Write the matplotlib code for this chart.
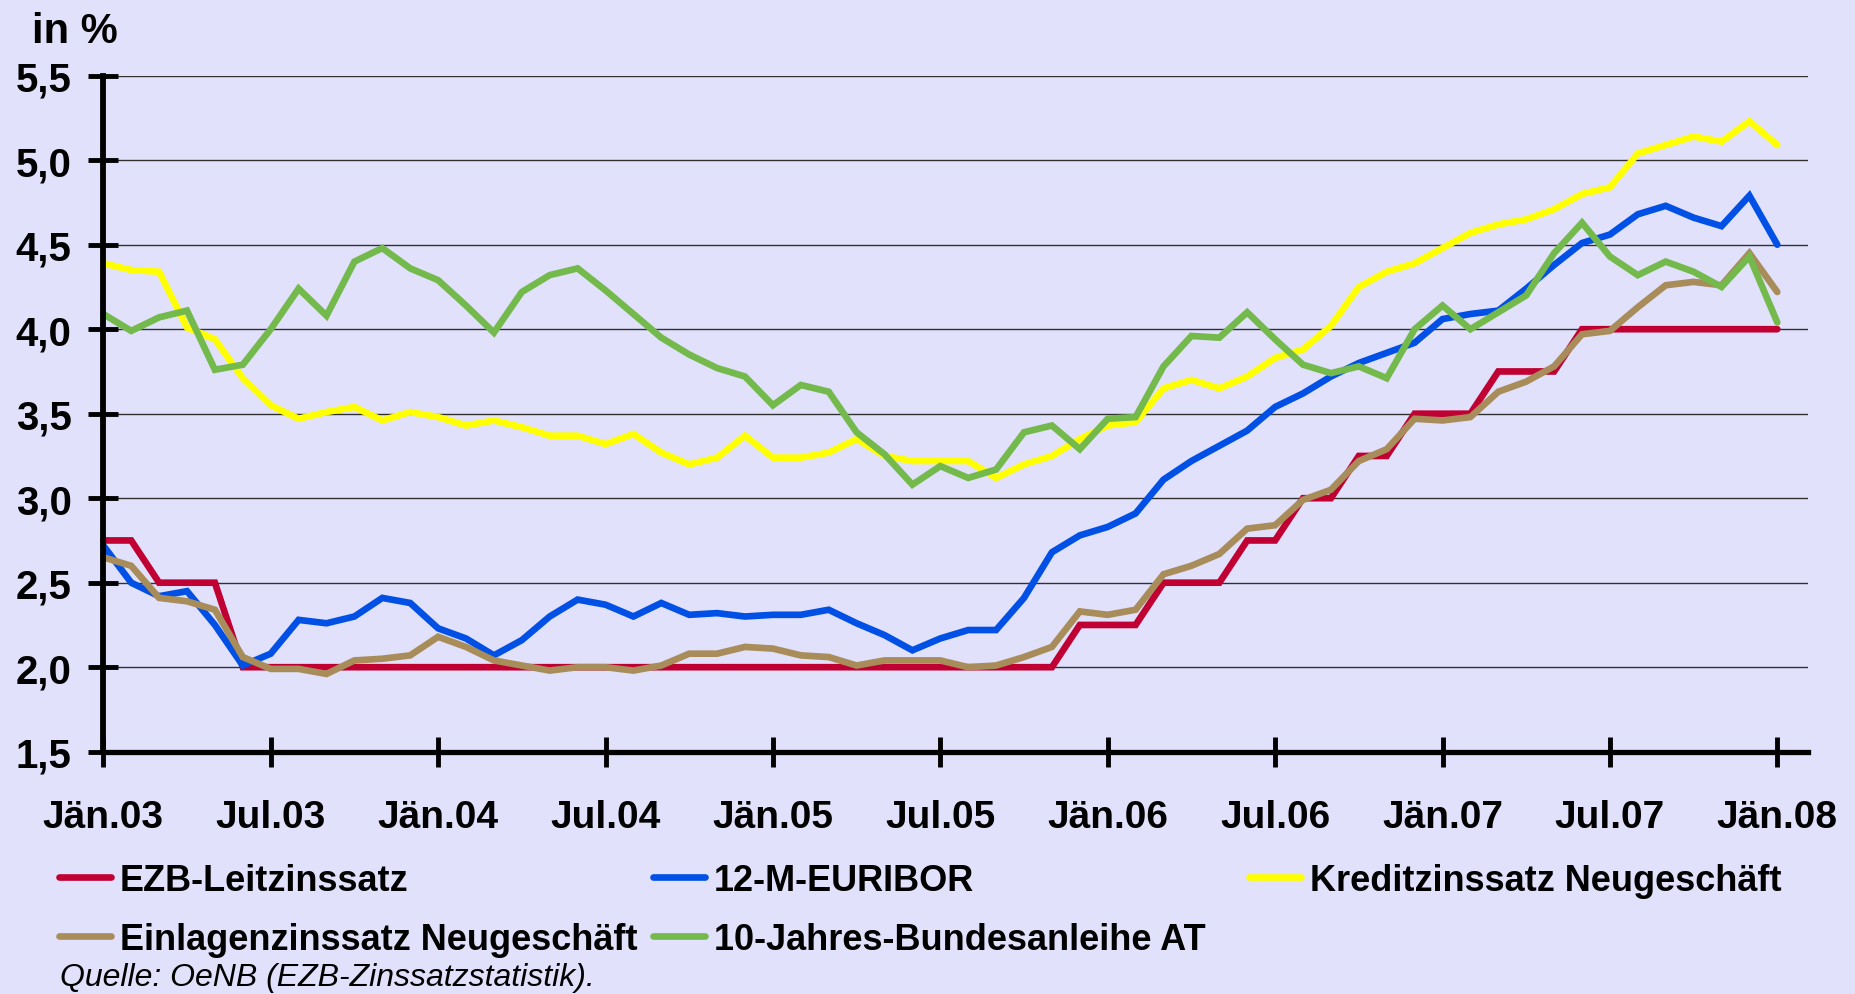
import numpy as np
import matplotlib
matplotlib.use("Agg")
import matplotlib.pyplot as plt

plt.rcParams['font.family'] = ['Liberation Sans', 'DejaVu Sans']

# monthly values Jän.03 .. Jän.08 (61 months), in %
ezb = [2.75, 2.75, 2.50, 2.50, 2.50] + [2.00] * 30 + [2.25] * 3 + [2.50] * 3 \
    + [2.75] * 2 + [3.00] * 2 + [3.25] * 2 + [3.50] * 3 + [3.75] * 3 + [4.00] * 8

euribor = [2.72, 2.50, 2.42, 2.45, 2.25, 2.01, 2.08, 2.28, 2.26, 2.30, 2.41, 2.38,
           2.23, 2.17, 2.07, 2.16, 2.30, 2.40, 2.37, 2.30, 2.38, 2.31, 2.32, 2.30,
           2.31, 2.31, 2.34, 2.26, 2.19, 2.10, 2.17, 2.22, 2.22, 2.41, 2.68, 2.78,
           2.83, 2.91, 3.11, 3.22, 3.31, 3.40, 3.54, 3.62, 3.72, 3.80, 3.86, 3.92,
           4.06, 4.09, 4.11, 4.24, 4.38, 4.51, 4.56, 4.68, 4.73, 4.66, 4.61, 4.79,
           4.50]

kredit = [4.39, 4.35, 4.34, 4.01, 3.94, 3.71, 3.55, 3.47, 3.51, 3.54, 3.46, 3.51,
          3.48, 3.43, 3.46, 3.42, 3.37, 3.37, 3.32, 3.38, 3.27, 3.20, 3.24, 3.37,
          3.24, 3.24, 3.27, 3.35, 3.25, 3.22, 3.22, 3.22, 3.12, 3.20, 3.25, 3.35,
          3.43, 3.45, 3.65, 3.70, 3.65, 3.72, 3.83, 3.88, 4.02, 4.25, 4.34, 4.39,
          4.48, 4.57, 4.62, 4.65, 4.71, 4.80, 4.84, 5.04, 5.09, 5.14, 5.11, 5.23,
          5.09]

einlagen = [2.65, 2.60, 2.41, 2.39, 2.34, 2.06, 1.99, 1.99, 1.96, 2.04, 2.05, 2.07,
            2.18, 2.12, 2.04, 2.01, 1.98, 2.00, 2.00, 1.98, 2.01, 2.08, 2.08, 2.12,
            2.11, 2.07, 2.06, 2.01, 2.04, 2.04, 2.04, 2.00, 2.01, 2.06, 2.12, 2.33,
            2.31, 2.34, 2.55, 2.60, 2.67, 2.82, 2.84, 2.99, 3.05, 3.22, 3.29, 3.47,
            3.46, 3.48, 3.63, 3.69, 3.78, 3.97, 3.99, 4.13, 4.26, 4.28, 4.26, 4.45,
            4.22]

bund10 = [4.09, 3.99, 4.07, 4.11, 3.76, 3.79, 4.00, 4.24, 4.08, 4.40, 4.48, 4.36,
          4.29, 4.14, 3.98, 4.22, 4.32, 4.36, 4.23, 4.09, 3.95, 3.85, 3.77, 3.72,
          3.55, 3.67, 3.63, 3.39, 3.26, 3.08, 3.19, 3.12, 3.17, 3.39, 3.43, 3.29,
          3.47, 3.48, 3.78, 3.96, 3.95, 4.10, 3.94, 3.79, 3.74, 3.78, 3.71, 4.00,
          4.14, 4.00, 4.10, 4.20, 4.45, 4.63, 4.43, 4.32, 4.40, 4.34, 4.25, 4.43,
          4.04]

series_names = ["EZB-Leitzinssatz", "12-M-EURIBOR", "Kreditzinssatz Neugeschäft",
                "Einlagenzinssatz Neugeschäft", "10-Jahres-Bundesanleihe AT"]
series_colors = ["#C00032", "#0050E6", "#FFFF00", "#A88C5A", "#74B94C"]

x_labels = ["Jän.03", "Jul.03", "Jän.04", "Jul.04", "Jän.05", "Jul.05",
            "Jän.06", "Jul.06", "Jän.07", "Jul.07", "Jän.08"]
y_values = [1.5, 2.0, 2.5, 3.0, 3.5, 4.0, 4.5, 5.0, 5.5]
y_labels = ["1,5", "2,0", "2,5", "3,0", "3,5", "4,0", "4,5", "5,0", "5,5"]

bg = "#E1E1FC"
W, H = 1856, 995

fig = plt.figure(figsize=(W / 100, H / 100), dpi=100)
fig.patch.set_facecolor(bg)
ax = fig.add_axes([103.3 / W, 1 - 752.7 / H, (1808 - 103.3) / W, (752.7 - 76.7) / H])
ax.set_facecolor(bg)

months = np.arange(len(ezb))
lines = []
for vals, name, col in zip([ezb, euribor, kredit, einlagen, bund10], series_names, series_colors):
    ln, = ax.plot(months, vals, color=col, lw=4.8, label=name,
                  solid_capstyle='round', solid_joinstyle='miter', clip_on=False)
    lines.append(ln)

ax.set_xlim(0, 61.1)
ax.set_ylim(1.5, 5.5)
ax.set_xticks(np.arange(0, 61, 6))
ax.set_xticklabels(x_labels)
ax.set_yticks(y_values)
ax.set_yticklabels(y_labels)

ax.yaxis.grid(True, color='#303030', lw=1.0)
ax.set_axisbelow(True)
for s in ['top', 'right']:
    ax.spines[s].set_visible(False)
ax.spines['left'].set_linewidth(4.2)
ax.spines['bottom'].set_linewidth(3.8)

ax.tick_params(axis='both', direction='inout', length=21.6, width=3.5, color='black')
ax.tick_params(axis='x', pad=23, labelsize=28)
ax.tick_params(axis='y', pad=12, labelsize=29)
for lab in ax.get_xticklabels() + ax.get_yticklabels():
    lab.set_fontweight('bold')

fig.text(32 / W, 1 - 43 / H, "in %", fontsize=30, fontweight='bold', va='baseline')

# legend in three equally spaced columns
legend_cols = [[0, 3], [1, 4], [2]]
col_x = [59, 653, 1249]
for idx, cx in zip(legend_cols, col_x):
    fig.legend([lines[i] for i in idx], [series_names[i] for i in idx],
               loc='upper left', bbox_to_anchor=(cx / W, 1 - 864 / H),
               frameon=False, prop={'size': 26, 'weight': 'bold'},
               handlelength=1.44, handletextpad=0.25,
               labelspacing=0.66, borderpad=0, borderaxespad=0)

fig.text(60 / W, 1 - 986 / H, "Quelle: OeNB (EZB-Zinssatzstatistik).",
         fontsize=23, style='italic', va='baseline')

fig.savefig("out.png", dpi=100, facecolor=bg)
